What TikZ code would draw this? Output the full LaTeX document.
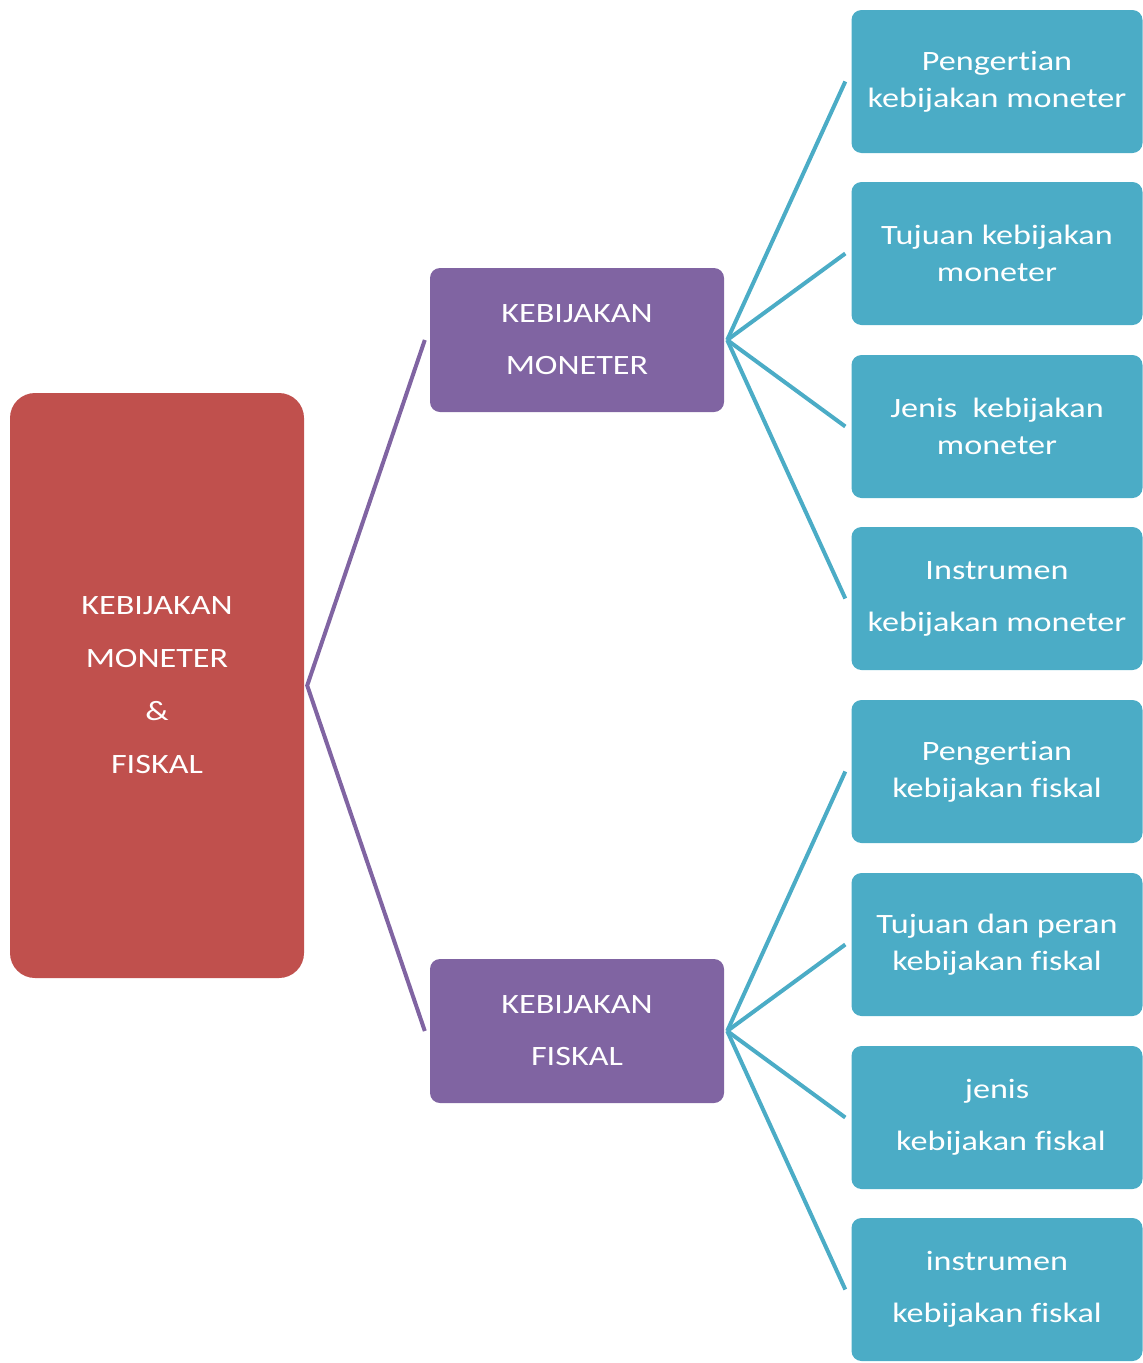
\documentclass[tikz,border=0pt]{standalone}
\usepackage{fontspec}
\setmainfont{Carlito}[FakeStretch=1.22, Ligatures=NoCommon]
\definecolor{rootred}{HTML}{C0504D}
\definecolor{midpurple}{HTML}{8064A2}
\definecolor{leafblue}{HTML}{4BACC6}
\begin{document}
\begin{tikzpicture}[x=1pt,y=-1pt,
  box/.style={rectangle, text=white, align=center, inner sep=0pt,
    font=\fontsize{28}{37}\selectfont},
  rootbox/.style={box, fill=rootred, rounded corners=25pt,
    minimum width=294pt, minimum height=585pt},
  midbox/.style={box, fill=midpurple, rounded corners=10pt,
    minimum width=294pt, minimum height=144pt},
  leafbox/.style={box, fill=leafblue, rounded corners=10pt,
    minimum width=291pt, minimum height=143pt},
  rootlink/.style={draw=midpurple, line width=4pt},
  leaflink/.style={draw=leafblue, line width=4pt}]
\useasboundingbox (0,0) rectangle (1143,1363);

% root
\node[rootbox] (root) at (157,685.5) {KEBIJAKAN\\[16pt]MONETER\\[16pt]\&\\[16pt]FISKAL};

% second level
\node[midbox] (mon) at (577,340) {KEBIJAKAN\\[15pt]MONETER};
\node[midbox] (fis) at (577,1031) {KEBIJAKAN\\[15pt]FISKAL};

% leaves
\node[leafbox] (m1) at (997,81.5)  {Pengertian\\kebijakan moneter};
\node[leafbox] (m2) at (997,253.5) {Tujuan kebijakan\\moneter};
\node[leafbox] (m3) at (997,426.5) {Jenis\ \ kebijakan\\moneter};
\node[leafbox] (m4) at (997,598.5) {Instrumen\\[15pt]kebijakan moneter};
\node[leafbox] (f1) at (997,771.5) {Pengertian\\kebijakan fiskal};
\node[leafbox] (f2) at (997,944.5) {Tujuan dan peran\\kebijakan fiskal};
\node[leafbox] (f3) at (997,1117.5) {jenis\\[15pt]\ kebijakan fiskal};
\node[leafbox] (f4) at (997,1289.5) {instrumen\\[15pt]kebijakan fiskal};

% connectors
\draw[rootlink] ([xshift=-5pt]mon.west) -- ([xshift=3pt]root.east) -- ([xshift=-5pt]fis.west);
\foreach \leaf in {m1,m2,m3,m4}
  \draw[leaflink] ([xshift=3pt]mon.east) -- ([xshift=-6pt]\leaf.west);
\foreach \leaf in {f1,f2,f3,f4}
  \draw[leaflink] ([xshift=3pt]fis.east) -- ([xshift=-6pt]\leaf.west);
\end{tikzpicture}
\end{document}
